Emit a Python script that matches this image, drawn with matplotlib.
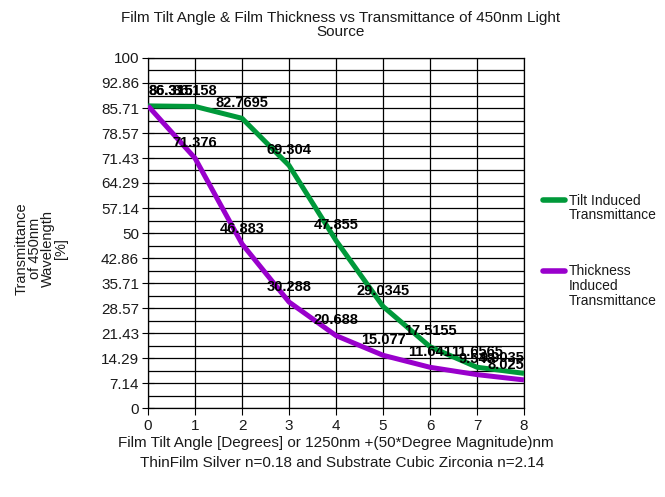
import numpy as np
import matplotlib.pyplot as plt
from matplotlib.lines import Line2D
from matplotlib.ticker import FixedLocator

plt.rcParams["font.family"] = ["Liberation Sans", "DejaVu Sans"]

# ---------- data ----------
x_vals = [0, 1, 2, 3, 4, 5, 6, 7, 8]
tilt_trans = [86.315, 86.158, 82.7695, 69.304, 47.855, 29.0345, 17.5155, 11.6565, 9.9035]
thick_trans = [86.315, 71.376, 46.883, 30.288, 20.688, 15.077, 11.641, 9.548, 8.025]
y_ticks = [round(i * 100 / 14, 2) for i in range(15)]
y_tick_labels = [f"{v:g}" for v in y_ticks]
series_names = ["Tilt Induced\nTransmittance", "Thickness\nInduced\nTransmittance"]

green = "#00993a"
purple = "#9900cc"
txt = "#1a1a1a"

fig = plt.figure(figsize=(6.65, 4.97), dpi=100)
ax = fig.add_axes([0.2226, 0.179, 0.5654, 0.7043])

ax.plot(x_vals, tilt_trans, color=green, lw=3.6, solid_capstyle="butt", zorder=3)
ax.plot(x_vals, thick_trans, color=purple, lw=3.6, solid_capstyle="butt", zorder=3)

# data labels, kept inside the plot area at the ends
def add_labels(xs, ys):
    for xv, yv in zip(xs, ys):
        ha = "center"
        if xv == xs[0]:
            ha = "left"
        elif xv == xs[-1]:
            ha = "right"
        ax.annotate(f"{yv:g}", (xv, yv), xytext=(0, 6), textcoords="offset points",
                    ha=ha, va="bottom", fontsize=10.5, fontweight="bold", color="black",
                    zorder=4)

add_labels(x_vals, tilt_trans)
add_labels(x_vals, thick_trans)

ax.set_xlim(0, 8)
ax.set_ylim(0, 100)
ax.set_xticks(x_vals)
ax.yaxis.set_major_locator(FixedLocator(y_ticks))
ax.set_yticklabels(y_tick_labels)
ax.yaxis.set_minor_locator(FixedLocator([v + 50 / 14 for v in y_ticks[:-1]]))
ax.grid(True, which="major", color="black", lw=0.9)
ax.grid(True, which="minor", axis="y", color="black", lw=0.9)
ax.tick_params(axis="y", which="major", direction="inout", length=9, labelsize=11,
               colors="black", labelcolor=txt, pad=2)
ax.tick_params(axis="y", which="minor", direction="in", length=4)
ax.tick_params(axis="x", direction="out", length=5, labelsize=11, labelcolor=txt, pad=3)
for s in ax.spines.values():
    s.set_color("black")
    s.set_linewidth(0.9)

ax.set_xlabel("Film Tilt Angle [Degrees] or 1250nm +(50*Degree Magnitude)nm",
              fontsize=11, color=txt, labelpad=2)
fig.text(0.062, 0.5, "Transmittance\nof 450nm\nWavelength\n[%]", rotation=90,
         ha="center", va="center", fontsize=10.5, color=txt, linespacing=0.92)

fig.text(0.512, 0.95, "Film Tilt Angle & Film Thickness vs Transmittance of 450nm Light\nSource",
         ha="center", va="center", fontsize=11, color=txt, linespacing=1.05)
fig.text(0.515, 0.068, "ThinFilm Silver n=0.18 and Substrate Cubic Zirconia n=2.14",
         ha="center", va="center", fontsize=11, color=txt)

# legend drawn by hand so the key sits next to the first text line
legend_rows = [(series_names[0], green, 0.597), (series_names[1], purple, 0.455)]
for name, col, yf in legend_rows:
    fig.add_artist(Line2D([0.817, 0.849], [yf, yf], transform=fig.transFigure,
                          color=col, lw=4, solid_capstyle="round"))
    fig.text(0.855, yf + 0.013, name, ha="left", va="top", fontsize=10,
             color=txt, linespacing=1.05)

fig.savefig("out.png", dpi=100)
